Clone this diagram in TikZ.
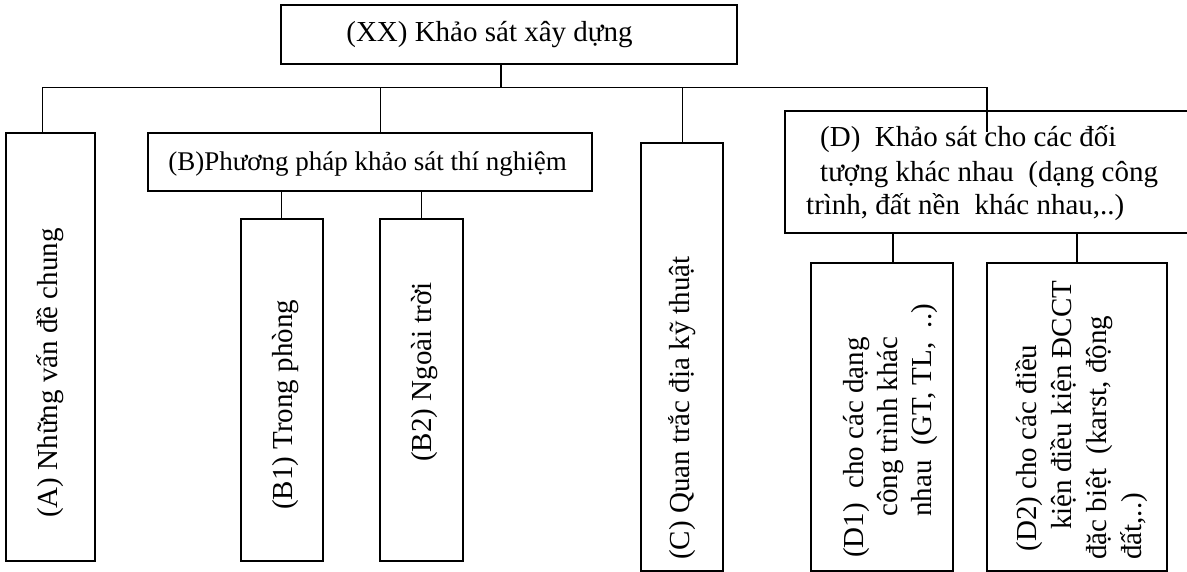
\documentclass[tikz,border=0pt]{standalone}
\usepackage{fontspec}
\setmainfont{Liberation Serif}
\begin{document}
\begin{tikzpicture}[x=1pt,y=-1pt,
  box/.style={draw, line width=2pt, inner sep=0pt},
  link/.style={line width=1.8pt},
  txt/.style={inner sep=0pt, font=\fontsize{29}{34}\selectfont},
  vtxt/.style={txt, rotate=90, anchor=base west}]
  \useasboundingbox (0,0) rectangle (1187,572);

  % Kasten
  \node[box, minimum width=456pt, minimum height=59pt] (XX) at (508.5,34.7) {};
  \node[box, minimum width=89pt, minimum height=428pt] (A) at (50.1,346.9) {};
  \node[box, minimum width=444pt, minimum height=58pt] (B) at (370.2,161.9) {};
  \node[box, minimum width=82pt, minimum height=342pt] (B1) at (281.5,390) {};
  \node[box, minimum width=83pt, minimum height=342pt] (B2) at (421.5,390) {};
  \node[box, minimum width=82pt, minimum height=428pt] (C) at (681.8,356.7) {};
  \node[box, minimum width=405pt, minimum height=122pt] (D) at (987.3,171.9) {};
  \node[box, minimum width=142pt, minimum height=308pt] (D1) at (881.7,416.7) {};
  \node[box, minimum width=180pt, minimum height=308pt] (D2) at (1076.8,416.7) {};

  % Texte
  \node[txt, anchor=base] (XXt) at (489.5,42) {(XX) Khảo sát xây dựng};
  \node[txt, anchor=base, font=\fontsize{27}{32}\selectfont] (Bt) at (367.6,171) {(B)Phương pháp khảo sát thí nghiệm};
  \node[vtxt] (At) at (57,518) {(A) Những vấn đề chung};
  \node[vtxt] (B1t) at (292,510) {(B1) Trong phòng};
  \node[vtxt] (B2t) at (431.5,462) {(B2) Ngoài trời};
  \node[vtxt] (Ct) at (689,560) {(C) Quan trắc địa kỹ thuật};

  \node[txt, anchor=base west] (Dt1) at (820,146.7) {(D)\ \ Khảo sát cho các đối};
  \node[txt, anchor=base west] (Dt2) at (820,181.7) {tượng khác nhau\ \ (dạng công};
  \node[txt, anchor=base west] (Dt3) at (806,215) {trình, đất nền\ \ khác nhau,..)};

  \node[vtxt] (D1t1) at (863,558) {(D1)\ \ cho các dạng};
  \node[vtxt] (D1t2) at (897,517) {công trình khác};
  \node[vtxt] (D1t3) at (931,517) {nhau\ \ (GT, TL,\ \ ..)};

  \node[vtxt] (D2t1) at (1036.6,551.7) {(D2) cho các điều};
  \node[vtxt] (D2t2) at (1071,530) {kiện điều kiện ĐCCT};
  \node[vtxt] (D2t3) at (1106,560) {đặc biệt\ \ (karst, động};
  \node[vtxt] (D2t4) at (1141,560) {đất,..)};

  % Verbindungen
  \coordinate (busA) at (42.5,87.5);
  \coordinate (busB) at (380.4,87.5);
  \coordinate (busX) at (500.6,87.5);
  \coordinate (busC) at (682.5,87.5);
  \coordinate (busD) at (986.7,87.5);
  \coordinate (Dend) at (986.7,131.7);
  \coordinate (tapD1) at (892.7,0);

  \draw[link] (busX |- XX.south) -- (busX);
  \draw[link] (busA |- A.north) -- (busA) -- (busD) -- (Dend);
  \draw[link] (busB) -- (busB |- B.north);
  \draw[link] (busC) -- (busC |- C.north);
  \draw[link] (B.south -| B1.north) -- (B1.north);
  \draw[link] (B.south -| B2.north) -- (B2.north);
  \draw[link] (tapD1 |- D.south) -- (tapD1 |- D1.north);
  \draw[link] (D.south -| D2.north) -- (D2.north);

\end{tikzpicture}
\end{document}
